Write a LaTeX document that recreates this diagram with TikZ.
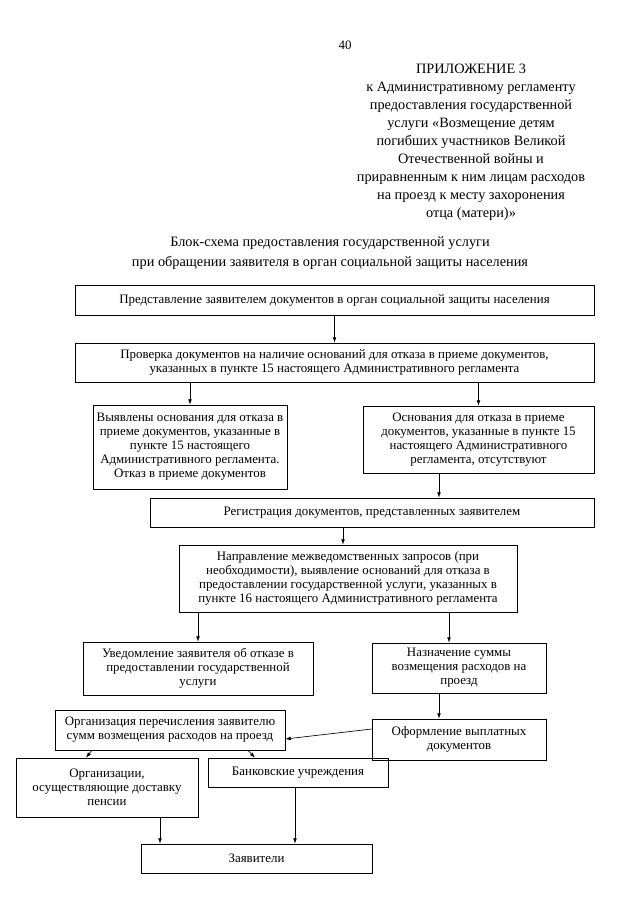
\documentclass[tikz,border=0pt]{standalone}
\usepackage{fontspec}
\setmainfont{Liberation Serif}
\usetikzlibrary{positioning,arrows.meta}

\begin{document}
\begin{tikzpicture}[x=0.9301pt, y=-0.9301pt,
    box/.style={draw, line width=0.6pt, align=center, inner sep=1pt, font=\fontsize{12}{13}\selectfont},
    boxsize/.style 2 args={minimum width=#1*0.9301pt, minimum height=#2*0.9301pt},
    head/.style={align=center, inner sep=0pt, font=\fontsize{13.3}{16.7}\selectfont},
    arrow/.style={-{Latex[length=5pt,width=3.5pt]}, line width=0.6pt}]
    \useasboundingbox (0,0) rectangle (640,905);

    \node[inner sep=0pt, font=\fontsize{12}{13}\selectfont] (page) at (345,45) {40};
    \node[head] (appx) at (471,142) {ПРИЛОЖЕНИЕ 3\\ к Административному регламенту\\ предоставления государственной\\ услуги «Возмещение детям\\ погибших участников Великой\\ Отечественной войны и\\ приравненным к ним лицам расходов\\ на проезд к месту захоронения\\ отца (матери)»};
    \node[head, font=\fontsize{13.3}{18.5}\selectfont] (title) at (330,253) {Блок-схема предоставления государственной услуги\\ при обращении заявителя в орган социальной защиты населения};

    \node[box, boxsize={519}{30}] (pred) at (334.5,300) {Представление заявителем документов в орган социальной защиты населения};
    \node[box, boxsize={519}{39}] (prov) at (334.5,362.5) {Проверка документов на наличие оснований для отказа в приеме документов,\\ указанных в пункте 15 настоящего Административного регламента};
    \node[box, boxsize={194}{84}] (otkaz) at (190,447) {Выявлены основания для отказа в\\ приеме документов, указанные в\\ пункте 15 настоящего\\ Административного регламента.\\ Отказ в приеме документов};
    \node[box, boxsize={231}{67}] (netosn) at (478.5,439.5) {Основания для отказа в приеме\\ документов, указанные в пункте 15\\ настоящего Административного\\ регламента, отсутствуют};
    \node[box, boxsize={444}{29}] (reg) at (372,512.5) {Регистрация документов, представленных заявителем};
    \node[box, boxsize={338}{67}] (mezh) at (348,578.5) {Направление межведомственных запросов (при\\ необходимости), выявление оснований для отказа в\\ предоставлении государственной услуги, указанных в\\ пункте 16 настоящего Административного регламента};
    \node[box, boxsize={230}{53}] (uved) at (198,668.5) {Уведомление заявителя об отказе в\\ предоставлении государственной\\ услуги};
    \node[box, boxsize={174}{50}] (nazn) at (459,668) {Назначение суммы\\ возмещения расходов на\\ проезд};
    \node[box, boxsize={174}{41}] (oform) at (459,739.5) {Оформление выплатных\\ документов};
    \node[box, boxsize={230}{40}] (perech) at (170,730) {Организация перечисления заявителю\\ сумм возмещения расходов на проезд};
    \node[box, boxsize={182}{59}] (dost) at (107,787.5) {Организации,\\ осуществляющие доставку\\ пенсии};
    \node[box, boxsize={180}{29}] (bank) at (298,772.5) {Банковские учреждения};
    \node[box, boxsize={231}{29}] (zayav) at (256.5,858.5) {Заявители};

    \draw[arrow] (pred) -- (prov);
    \draw[arrow] (prov.south -| otkaz.north) -- (otkaz.north);
    \draw[arrow] (prov.south -| netosn.north) -- (netosn.north);
    \draw[arrow] (netosn.south -| 439,0) -- (reg.north -| 439,0);
    \draw[arrow] (reg.south -| 343,0) -- (mezh.north -| 343,0);
    \draw[arrow] (mezh.south -| uved.north) -- (uved.north);
    \draw[arrow] (mezh.south -| 449,0) -- (nazn.north -| 449,0);
    \draw[arrow] (nazn.south -| 439,0) -- (oform.north -| 439,0);
    \draw[arrow] (oform.west |- 0,729) -- (perech.east |- 0,739);
    \draw[arrow] (perech.south -| 92,0) -- (dost.north -| 86,0);
    \draw[arrow] (perech.south -| 248,0) -- (bank.north -| 255,0);
    \draw[arrow] (dost.south -| 160,0) -- (zayav.north -| 160,0);
    \draw[arrow] (bank.south -| 295,0) -- (zayav.north -| 295,0);
\end{tikzpicture}
\end{document}
